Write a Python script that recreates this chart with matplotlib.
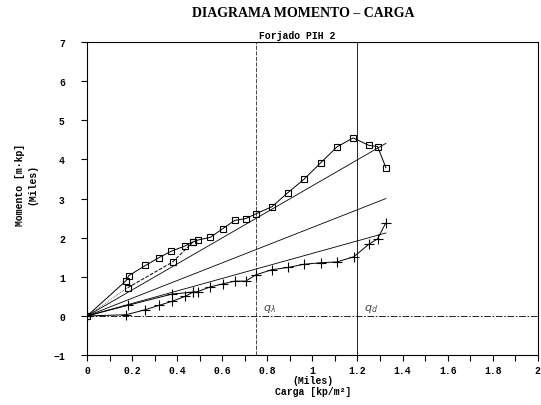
import numpy as np
import matplotlib.pyplot as plt

# ensayo, rama superior (cuadrados)
sq_x = [0, 0.173, 0.185, 0.259, 0.319, 0.372, 0.435, 0.47, 0.492, 0.547, 0.602, 0.655,
        0.705, 0.749, 0.82, 0.891, 0.962, 1.036, 1.109, 1.181, 1.25, 1.289, 1.326]
sq_y = [0, 0.9, 1.03, 1.29, 1.49, 1.65, 1.79, 1.89, 1.94, 2.01, 2.23, 2.44,
        2.49, 2.61, 2.79, 3.15, 3.49, 3.91, 4.32, 4.55, 4.36, 4.33, 3.79]
# rama de recarga (cuadrados)
sq2_x = [0.18, 0.38, 0.47]
sq2_y = [0.72, 1.38, 1.89]

# ensayo, rama inferior (cruces)
pl_x = [0, 0.173, 0.259, 0.319, 0.375, 0.435, 0.47, 0.49, 0.545, 0.602, 0.656, 0.704,
        0.749, 0.819, 0.893, 0.962, 1.036, 1.109, 1.183, 1.25, 1.289, 1.325]
pl_y = [0, 0.03, 0.16, 0.27, 0.37, 0.5, 0.61, 0.62, 0.74, 0.82, 0.89, 0.89,
        1.05, 1.18, 1.24, 1.32, 1.36, 1.38, 1.51, 1.83, 1.97, 2.37]
pl2_x = [0, 0.18, 0.378, 0.47]
pl2_y = [0, 0.27, 0.56, 0.61]

# rectas teoricas desde el origen
rect_end_x = 1.326
rect_end_y = [4.41, 3.0, 2.12]

q_lambda = 0.75
q_d = 1.2

mono = 'Liberation Mono'

fig = plt.figure(figsize=(5.41, 4.06), dpi=100)
ax = fig.add_axes([0.161, 0.123, 0.833, 0.771])

for ye in rect_end_y:
    ax.plot([0, rect_end_x], [0, ye], color='black', lw=0.6)

ax.plot(sq_x, sq_y, color='black', lw=0.7, marker='s', ms=5, mfc='none', mew=0.8)
ax.plot(sq2_x, sq2_y, color='black', lw=0.7, ls='--', marker='s', ms=5, mfc='none', mew=0.8)
ax.plot([0, sq2_x[0]], [0, sq2_y[0]], color='black', lw=0.5, ls=':')
ax.plot(pl_x, pl_y, color='black', lw=0.7, marker='+', ms=7, mew=0.8)
ax.plot(pl2_x, pl2_y, color='black', lw=0.7, marker='+', ms=7, mew=0.8)

ax.axhline(0, color='black', lw=0.6, ls=(0, (8, 2, 2, 2)))
ax.axvline(q_lambda, color='black', lw=0.5, ls=(0, (6, 2)))
ax.axvline(q_d, color='black', lw=0.6)
ax.text(q_lambda + 0.03, 0.15, r'$q_\lambda$', fontsize=8, color='#444444')
ax.text(q_d + 0.03, 0.15, r'$q_d$', fontsize=8, color='#444444')

ax.set_xlim(0, 2)
ax.set_ylim(-1, 7)
ax.set_xticks(np.arange(0, 2.01, 0.2))
ax.set_xticks(np.arange(0, 2.01, 0.1), minor=True)
ax.set_xticklabels(['0', '0.2', '0.4', '0.6', '0.8', '1', '1.2', '1.4', '1.6', '1.8', '2'])
ax.set_yticks(range(-1, 8))
ax.tick_params(axis='both', which='both', direction='out', length=4, width=0.8)
ax.tick_params(axis='y', pad=12)
ax.tick_params(axis='x', pad=3)
for lab in ax.get_xticklabels() + ax.get_yticklabels():
    lab.set_fontfamily(mono)
    lab.set_fontweight('bold')
    lab.set_fontsize(7)
for s in ax.spines.values():
    s.set_linewidth(0.8)

fig.text(0.56, 0.966, 'DIAGRAMA MOMENTO \u2013 CARGA', ha='center', va='center',
         fontfamily='Liberation Serif', fontweight='bold', fontsize=10)
fig.text(0.55, 0.911, 'Forjado PIH 2', ha='center', va='center',
         fontfamily=mono, fontweight='bold', fontsize=7)
fig.text(0.578, 0.062, '(Miles)', ha='center', va='center',
         fontfamily=mono, fontweight='bold', fontsize=7)
fig.text(0.578, 0.035, 'Carga [kp/m\u00b2]', ha='center', va='center',
         fontfamily=mono, fontweight='bold', fontsize=7)
fig.text(0.037, 0.545, 'Momento [m\u00b7kp]', ha='center', va='center', rotation=90,
         fontfamily=mono, fontweight='bold', fontsize=7)
fig.text(0.06, 0.545, '(Miles)', ha='center', va='center', rotation=90,
         fontfamily=mono, fontweight='bold', fontsize=7)

fig.savefig('out.png', dpi=100)
